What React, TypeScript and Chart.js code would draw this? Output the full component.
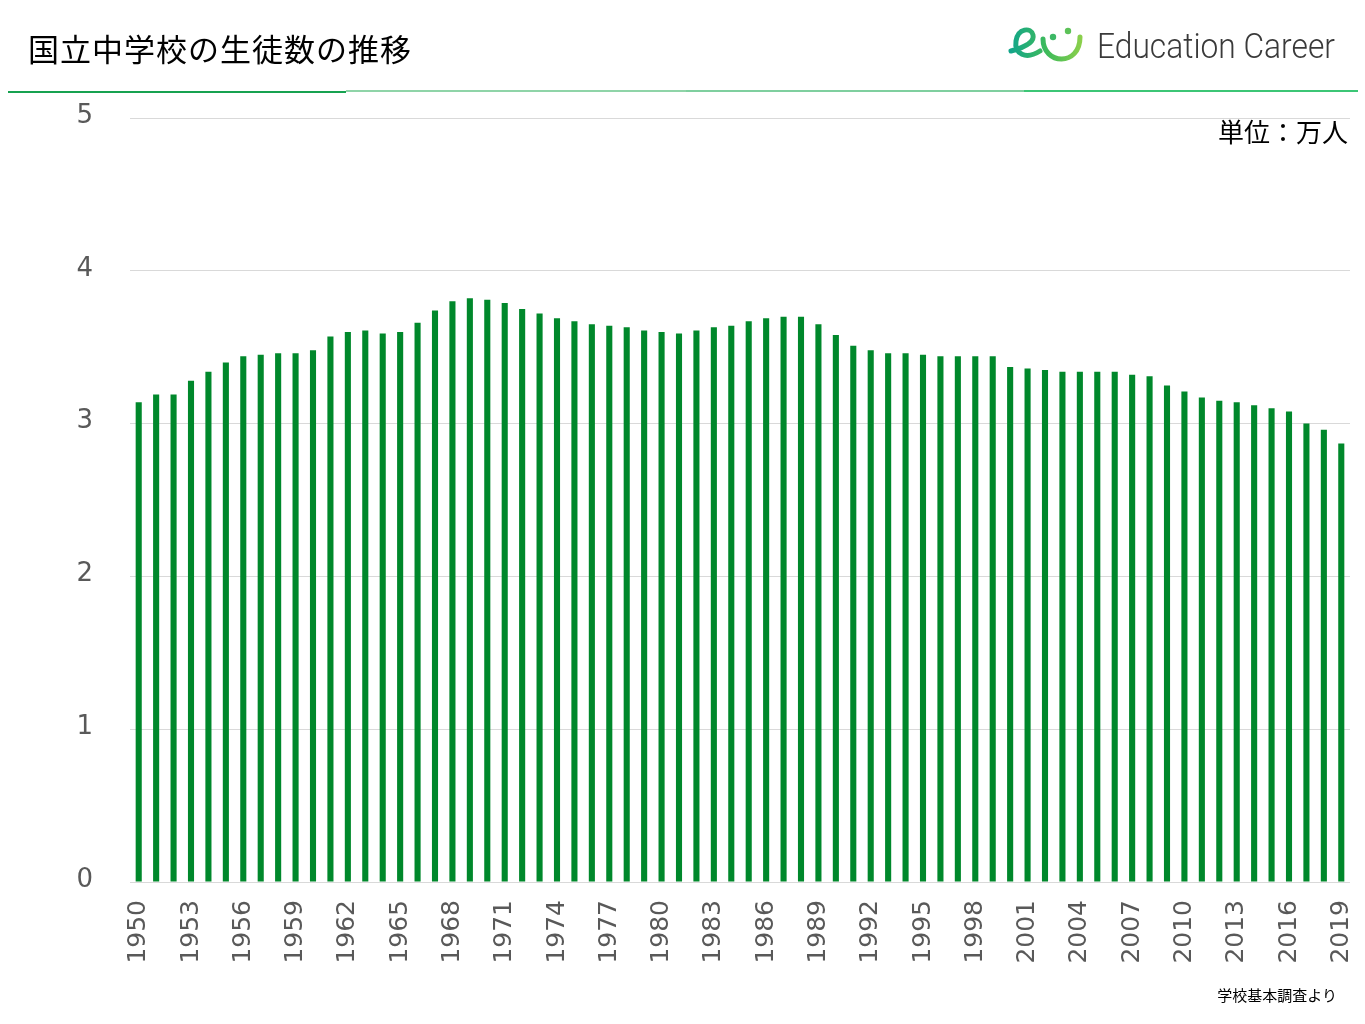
import React, { useEffect, useRef } from "react";
import Chart from "chart.js/auto";

const YEARS: string[] = [
  "1950","1951","1952","1953","1954","1955","1956","1957","1958","1959",
  "1960","1961","1962","1963","1964","1965","1966","1967","1968","1969",
  "1970","1971","1972","1973","1974","1975","1976","1977","1978","1979",
  "1980","1981","1982","1983","1984","1985","1986","1987","1988","1989",
  "1990","1991","1992","1993","1994","1995","1996","1997","1998","1999",
  "2000","2001","2002","2003","2004","2005","2006","2007","2008","2009",
  "2010","2011","2012","2013","2014","2015","2016","2017","2018","2019",
];

// 生徒数（万人）
const STUDENTS: number[] = [
  3.14, 3.19, 3.19, 3.28, 3.34, 3.40, 3.44, 3.45, 3.46, 3.46,
  3.48, 3.57, 3.60, 3.61, 3.59, 3.60, 3.66, 3.74, 3.80, 3.82,
  3.81, 3.79, 3.75, 3.72, 3.69, 3.67, 3.65, 3.64, 3.63, 3.61,
  3.60, 3.59, 3.61, 3.63, 3.64, 3.67, 3.69, 3.70, 3.70, 3.65,
  3.58, 3.51, 3.48, 3.46, 3.46, 3.45, 3.44, 3.44, 3.44, 3.44,
  3.37, 3.36, 3.35, 3.34, 3.34, 3.34, 3.34, 3.32, 3.31, 3.25,
  3.21, 3.17, 3.15, 3.14, 3.12, 3.10, 3.08, 3.00, 2.96, 2.87,
];

const Y_TICKS: number[] = [0, 1, 2, 3, 4, 5];

const TITLE = "国立中学校の生徒数の推移";
const UNIT = "単位：万人";
const SOURCE = "学校基本調査より";
const BRAND = "Education Career";

export default function App() {
  const canvasRef = useRef<HTMLCanvasElement | null>(null);

  useEffect(() => {
    document.body.style.margin = "0";
    const canvas = canvasRef.current;
    if (!canvas) return;
    const chart = new Chart(canvas, {
      type: "bar",
      data: {
        labels: YEARS,
        datasets: [
          {
            data: STUDENTS,
            backgroundColor: "#00882B",
            borderWidth: 0,
            categoryPercentage: 1,
            barPercentage: 0.35,
          },
        ],
      },
      options: {
        animation: false,
        responsive: false,
        maintainAspectRatio: false,
        layout: { padding: { top: 118, right: 15, left: 0, bottom: 0 } },
        plugins: {
          legend: { display: false },
          tooltip: { enabled: false },
        },
        scales: {
          x: {
            grid: { display: false, drawTicks: false },
            border: { display: false },
            ticks: {
              autoSkip: false,
              maxRotation: 90,
              minRotation: 90,
              padding: 18,
              color: "#595959",
              font: { family: "DejaVu Sans", size: 25 },
              callback: (_v: any, i: number) => (i % 3 === 0 ? YEARS[i] : ""),
            },
            afterFit: (s: any) => {
              s.height = 142;
              s.paddingLeft = 0;
              s.paddingRight = 0;
            },
          },
          y: {
            min: Y_TICKS[0],
            max: Y_TICKS[Y_TICKS.length - 1],
            grid: { color: "#d9d9d9", drawTicks: false, lineWidth: 1 },
            border: { display: false },
            ticks: {
              stepSize: 1,
              padding: 37,
              labelOffset: -2,
              color: "#595959",
              font: { family: "DejaVu Sans", size: 26 },
            },
            afterFit: (s: any) => {
              s.width = 130;
              s.paddingTop = 0;
              s.paddingBottom = 0;
            },
          },
        },
      },
    } as any);
    return () => chart.destroy();
  }, []);

  return (
    <div
      style={{
        position: "fixed",
        left: 0,
        top: 0,
        width: 1365,
        height: 1024,
        background: "#ffffff",
        overflow: "hidden",
      }}
    >
      <canvas
        ref={canvasRef}
        width={1365}
        height={1024}
        style={{ position: "absolute", left: 0, top: 0, width: 1365, height: 1024 }}
      />
      <div
        style={{
          position: "absolute",
          left: 28,
          top: 27,
          fontFamily: "'Noto Sans CJK JP', sans-serif",
          fontSize: 31,
          letterSpacing: 1,
          lineHeight: "42px",
          color: "#000",
          whiteSpace: "nowrap",
        }}
      >
        {TITLE}
      </div>
      <svg
        width={360}
        height={60}
        viewBox="0 0 360 60"
        style={{ position: "absolute", left: 1000, top: 15 }}
      >
        <defs>
          <linearGradient id="lg" x1="10" y1="0" x2="85" y2="0" gradientUnits="userSpaceOnUse">
            <stop offset="0" stopColor="#12a58a" />
            <stop offset="0.5" stopColor="#3fbb5a" />
            <stop offset="1" stopColor="#93d24a" />
          </linearGradient>
        </defs>
        <path
          d="M 11 36 C 22 33, 35 28, 33 20 C 31 12, 18 13, 16 26 C 14 39, 26 45, 40 36"
          fill="none"
          stroke="url(#lg)"
          strokeWidth={5}
          strokeLinecap="round"
        />
        <circle cx={53} cy={22} r={3.2} fill="#3cb865" />
        <circle cx={68} cy={16} r={3.2} fill="#5cc258" />
        <path
          d="M 43 24 C 43 50, 80 52, 80 22"
          fill="none"
          stroke="url(#lg)"
          strokeWidth={5}
          strokeLinecap="round"
        />
        <text
          x={97}
          y={43}
          fontFamily="Roboto, 'Liberation Sans', sans-serif"
          fontWeight={300}
          fontSize={35}
          fill="#3a3a3a"
          textLength={238}
          lengthAdjust="spacingAndGlyphs"
        >
          {BRAND}
        </text>
      </svg>
      <div style={{ position: "absolute", left: 8, top: 91, height: 2, width: 338, background: "#16a250" }} />
      <div style={{ position: "absolute", left: 346, top: 90, height: 2, width: 340, background: "#8fd4a8" }} />
      <div style={{ position: "absolute", left: 686, top: 90, height: 2, width: 338, background: "#7fcf9f" }} />
      <div style={{ position: "absolute", left: 1024, top: 90, height: 2, width: 334, background: "#3cc676" }} />
      <div
        style={{
          position: "absolute",
          right: 17,
          top: 113,
          fontFamily: "'Noto Sans CJK JP', sans-serif",
          fontSize: 26,
          lineHeight: "36px",
          color: "#000",
          whiteSpace: "nowrap",
        }}
      >
        {UNIT}
      </div>
      <div
        style={{
          position: "absolute",
          right: 28,
          top: 985,
          fontFamily: "'Noto Sans CJK JP', sans-serif",
          fontSize: 15,
          lineHeight: "20px",
          color: "#000",
          whiteSpace: "nowrap",
        }}
      >
        {SOURCE}
      </div>
    </div>
  );
}
